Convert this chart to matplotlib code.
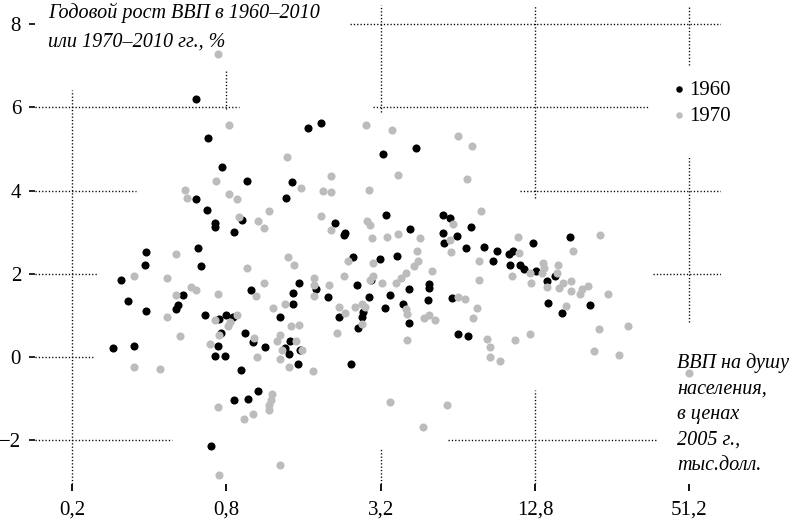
import matplotlib
matplotlib.use('Agg')
import matplotlib.pyplot as plt

plt.rcParams['font.family'] = ['Liberation Serif', 'DejaVu Serif']

# ВВП на душу населения (тыс. долл., цены 2005 г.) и годовой рост, 1960-2010
gdp_1960 = [0.61, 0.68, 1.66, 1.87, 3.27, 0.77, 0.96, 1.44, 0.61, 1.37,
            0.67, 0.72, 0.72, 0.92, 0.86, 2.13, 2.33, 2.31, 0.39, 0.385,
            0.62, 0.64, 2.49, 0.31, 0.54, 0.52, 0.51, 1.00, 1.54, 1.46,
            1.45, 1.79, 2.00, 2.59, 2.20, 2.72, 2.70, 2.89, 0.33, 0.39,
            0.66, 0.80, 0.75, 0.85, 1.29, 0.76, 0.74, 0.72, 0.79, 0.95,
            1.02, 1.13, 0.91, 1.42, 1.35, 1.41, 1.55, 1.52, 2.62, 2.46,
            0.29, 0.35, 1.06, 0.86, 0.97, 0.70, 4.39, 3.35, 5.58, 5.96,
            7.21, 4.16, 5.58, 6.33, 5.66, 6.88, 8.10, 9.06, 10.09, 10.52,
            12.52, 17.54, 3.69, 3.18, 2.94, 4.11, 4.93, 4.96, 3.49, 4.90,
            6.05, 8.74, 10.24, 11.17, 11.58, 12.89, 14.19, 15.29, 3.34, 3.92,
            4.11, 6.42, 7.02, 14.32, 16.33, 20.94]
growth_1960 = [6.20, 5.27, 5.50, 5.63, 4.89, 4.57, 4.23, 4.20, 3.79, 3.82,
               3.53, 3.23, 3.12, 3.29, 3.01, 3.23, 2.97, 2.93, 2.52, 2.21,
               2.61, 2.20, 2.40, 1.84, 1.49, 1.25, 1.16, 1.60, 1.78, 1.53,
               1.27, 1.63, 1.44, 1.74, 0.97, 1.09, 0.97, 1.45, 1.35, 1.11,
               1.02, 1.02, 0.91, 0.97, 0.97, 0.58, 0.27, 0.03, 0.02, 0.58,
               0.37, 0.23, -0.31, 0.39, 0.22, 0.07, 0.16, -0.16, 0.69, -0.16,
               0.21, 0.26, -0.82, -1.02, -1.01, -2.13, 5.03, 3.41, 3.42, 3.33,
               3.12, 3.08, 2.99, 2.90, 2.75, 2.63, 2.64, 2.56, 2.47, 2.56,
               2.75, 2.88, 2.42, 2.35, 1.86, 1.64, 1.75, 1.67, 1.48, 1.38,
               1.41, 2.32, 2.21, 2.21, 2.11, 2.07, 1.83, 1.95, 1.19, 1.27,
               0.82, 0.55, 0.50, 1.31, 1.05, 1.26]

gdp_1970 = [0.74, 0.82, 2.81, 3.55, 1.38, 0.73, 2.05, 1.57, 1.91, 2.05,
            2.89, 3.73, 0.55, 0.56, 0.82, 0.88, 1.17, 0.90, 1.06, 1.12,
            1.88, 2.04, 2.84, 2.90, 0.51, 0.96, 1.39, 1.47, 2.38, 2.31,
            0.35, 0.47, 0.58, 0.61, 0.51, 0.74, 1.04, 1.12, 1.35, 1.22,
            1.76, 1.76, 1.76, 2.01, 2.20, 2.33, 2.55, 2.70, 2.78, 0.47,
            0.72, 0.88, 0.83, 0.81, 0.53, 0.75, 0.69, 1.03, 1.05, 1.43,
            1.54, 1.30, 1.26, 1.49, 1.32, 1.58, 1.29, 1.40, 1.74, 2.70,
            2.17, 0.35, 0.44, 1.21, 1.20, 1.17, 1.17, 0.74, 1.02, 0.94,
            1.30, 0.75, 6.40, 7.24, 6.92, 7.85, 6.10, 2.96, 3.39, 3.74,
            4.55, 5.99, 10.94, 11.10, 23.04, 17.92, 6.03, 2.99, 4.44, 4.48,
            4.32, 4.00, 3.83, 3.66, 3.25, 2.99, 2.92, 5.07, 7.75, 7.75,
            13.76, 13.85, 13.65, 15.71, 15.60, 10.39, 12.22, 12.29, 14.27, 16.47,
            15.89, 17.70, 17.61, 20.51, 19.48, 19.25, 24.61, 6.38, 6.82, 4.01,
            4.06, 4.07, 4.73, 4.93, 5.22, 7.61, 7.32, 8.28, 8.51, 8.51,
            9.36, 10.71, 12.25, 16.83, 22.76, 29.44, 21.71, 27.16, 51.05, 3.48,
            5.80, 4.70]
growth_1970 = [7.28, 5.57, 5.57, 5.46, 4.81, 4.23, 4.36, 4.06, 3.99, 3.97,
               4.02, 4.37, 4.01, 3.83, 3.92, 3.81, 3.52, 3.36, 3.27, 3.11,
               3.38, 3.05, 3.26, 3.17, 2.47, 2.15, 2.40, 2.22, 2.32, 1.95,
               1.96, 1.89, 1.68, 1.61, 1.50, 1.51, 1.46, 1.77, 1.27, 1.19,
               1.90, 1.73, 1.47, 1.74, 1.21, 1.06, 1.21, 1.27, 1.21, 0.97,
               0.90, 1.02, 0.84, 0.75, 0.51, 0.53, 0.32, 0.46, 0.01, 0.75,
               0.77, 0.53, 0.38, 0.39, 0.17, 0.17, -0.04, -0.23, -0.34, 0.80,
               0.59, -0.23, -0.29, -0.88, -1.03, -1.16, -1.27, -1.19, -1.37, -1.49,
               -2.60, -2.84, 5.32, 5.06, 4.27, 3.50, 3.20, 2.86, 2.88, 2.95,
               2.86, 2.81, 2.88, 2.51, 2.93, 2.55, 2.52, 2.27, 2.56, 2.32,
               2.19, 2.01, 1.90, 1.79, 1.79, 1.96, 1.85, 2.07, 2.31, 1.85,
               2.25, 2.13, 2.03, 2.21, 2.03, 1.95, 2.01, 1.77, 1.69, 1.79,
               1.65, 1.82, 1.59, 1.71, 1.63, 1.51, 1.51, 1.45, 1.39, 1.15,
               1.03, 0.41, 0.93, 1.01, 0.89, 1.18, 0.93, 0.43, 0.25, 0.00,
               -0.10, 0.41, 0.55, 1.22, 0.67, 0.74, 0.14, 0.06, -0.38, -1.07,
               -1.15, -1.68]

x_ticks = [0.2, 0.8, 3.2, 12.8, 51.2]
x_labels = ['0,2', '0,8', '3,2', '12,8', '51,2']
y_ticks = [-2, 0, 2, 4, 6, 8]

# broken dotted grid: (y, x_from, x_to) and (x, y_from, y_to)
x_lo, x_hi = 0.1435, 68.0
y_lo, y_hi = -3.05, 8.46
h_segments = [(8, 2.43, x_hi), (6, x_lo, 0.90), (6, 2.98, 35.2),
              (4, x_lo, 0.355), (4, 11.2, x_hi), (2, x_lo, 0.25),
              (2, 36.9, x_hi), (0, x_lo, 0.241), (-2, x_lo, 0.49),
              (-2, 5.85, 38.6)]
v_segments = [(0.2, y_lo, 6.42), (0.8, 5.95, 6.92), (3.2, 5.89, y_hi),
              (3.2, y_lo, -2.19), (12.8, 3.82, y_hi), (12.8, y_lo, -0.79),
              (51.2, 7.02, y_hi), (51.2, 0.84, 4.81)]

fig = plt.figure(figsize=(7.95, 5.21), dpi=100)
ax = fig.add_axes([35/795, 1 - 484/521, 686/795, 479/521])

dots = (0, (0.9, 1.5))
for y, a, b in h_segments:
    ax.plot([a, b], [y, y], color='black', lw=1.0, linestyle=dots, zorder=1)
for x, a, b in v_segments:
    ax.plot([x, x], [a, b], color='black', lw=1.0, linestyle=dots, zorder=1)

ax.scatter(gdp_1960, growth_1960, s=34, color='black', linewidths=0,
           label='1960', zorder=3)
ax.scatter(gdp_1970, growth_1970, s=34, color='#bcbcbc', linewidths=0,
           label='1970', zorder=3)

ax.set_xscale('log', base=2)
ax.set_xlim(x_lo, x_hi)
ax.set_ylim(y_lo, y_hi)
ax.set_xticks(x_ticks)
ax.set_xticklabels(x_labels)
ax.minorticks_off()
ax.set_yticks(y_ticks)
for s in ax.spines.values():
    s.set_visible(False)
ax.tick_params(axis='x', length=5, width=1.3, pad=7, labelsize=15)
ax.tick_params(axis='y', length=4, width=1.2, pad=6, labelsize=15)

ax.legend(loc='upper left', bbox_to_anchor=(670/795, 1 - 80/521),
          bbox_transform=fig.transFigure, frameon=False, fontsize=15,
          handletextpad=0.0, handlelength=0.9, borderpad=0,
          borderaxespad=0, labelspacing=0.32, markerscale=0.8,
          scatterpoints=1)

fig.text(48/795, 1 - 3/521, 'Годовой рост ВВП в 1960–2010\nили 1970–2010 гг., %',
         fontsize=14.5, style='italic', va='top', ha='left', linespacing=1.65)
fig.text(677/795, 1 - 353/521,
         'ВВП на душу\nнаселения,\nв ценах\n2005 г.,\nтыс.долл.',
         fontsize=14.5, style='italic', va='top', ha='left', linespacing=1.47)

fig.savefig('out.png', dpi=100)
